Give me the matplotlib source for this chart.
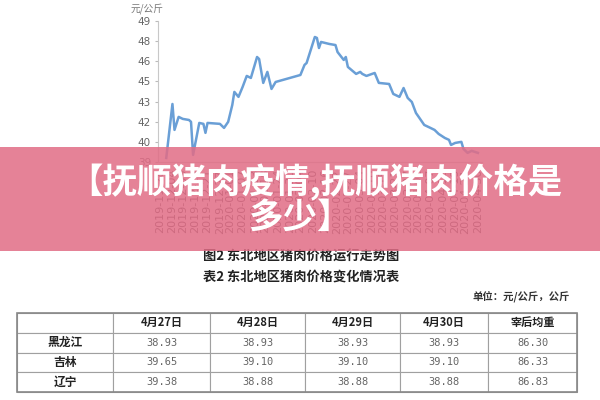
import pandas as pd
import matplotlib
matplotlib.use("Agg")
import matplotlib.pyplot as plt
from matplotlib.patches import Rectangle

plt.rcParams['font.family'] = ['Noto Sans CJK SC', 'DejaVu Sans']

# pork price, Northeast China (yuan/kg)
dates = ['2019-12-01', '2019-12-04', '2019-12-05', '2019-12-07', '2019-12-09', '2019-12-12',
         '2019-12-13', '2019-12-14', '2019-12-17', '2019-12-19', '2019-12-20', '2019-12-21',
         '2019-12-27', '2019-12-29', '2019-12-31',
         '2020-01-02', '2020-01-03', '2020-01-05', '2020-01-07', '2020-01-09', '2020-01-11',
         '2020-01-14', '2020-01-15', '2020-01-17', '2020-01-19', '2020-01-21', '2020-01-23',
         '2020-02-04', '2020-02-06', '2020-02-07', '2020-02-11', '2020-02-12', '2020-02-13',
         '2020-02-14', '2020-02-18', '2020-02-21', '2020-02-22', '2020-02-25', '2020-02-26',
         '2020-02-27',
         '2020-03-02', '2020-03-04', '2020-03-05', '2020-03-07', '2020-03-11', '2020-03-13',
         '2020-03-18', '2020-03-20', '2020-03-23', '2020-03-25', '2020-03-27', '2020-03-29',
         '2020-03-31',
         '2020-04-01', '2020-04-04', '2020-04-07', '2020-04-09', '2020-04-11', '2020-04-14',
         '2020-04-16', '2020-04-17', '2020-04-19', '2020-04-22', '2020-04-23', '2020-04-25',
         '2020-04-27', '2020-04-30']
prices = [38.80, 42.82, 40.89, 41.86, 41.71, 41.63, 41.49, 39.03, 41.41, 41.34, 40.67, 41.41,
          41.34, 41.04, 41.49,
          42.75, 43.72, 43.35, 44.09, 44.91, 44.76, 46.32, 46.17, 44.39, 45.21, 43.94, 44.46,
          44.98, 45.73, 45.87, 47.81, 47.74, 46.99, 47.44, 47.29, 47.21, 46.69, 46.10, 46.32,
          45.58,
          45.06, 45.21, 45.06, 44.91, 45.13, 44.39, 44.31, 43.57, 43.35, 44.01, 43.27, 42.97,
          42.15,
          41.93, 41.26, 41.04, 40.89, 40.59, 40.29, 40.15, 39.77, 39.92, 40.00, 39.48, 39.18,
          39.33, 39.18]

xtick_dates = ['2019-11-28', '2019-12-04', '2019-12-09', '2019-12-15', '2019-12-21', '2019-12-27',
               '2020-01-01', '2020-01-07', '2020-01-13', '2020-01-18', '2020-01-24', '2020-01-30',
               '2020-02-04', '2020-02-10', '2020-02-16', '2020-02-22', '2020-02-27', '2020-03-04',
               '2020-03-10', '2020-03-15', '2020-03-21', '2020-03-27', '2020-04-01', '2020-04-07',
               '2020-04-13', '2020-04-19', '2020-04-24', '2020-04-30']
ytick_vals = [38.5, 40, 41.5, 43, 44.5, 46, 47.5, 49]
ytick_labels = ['39', '40', '42', '43', '45', '46', '48', '49']

# table 2
col_labels = ['', '4月27日', '4月28日', '4月29日', '4月30日', '宰后均重']
provinces = ['黑龙江', '吉林', '辽宁']
table_vals = [['38.93', '38.93', '38.93', '38.93', '86.30'],
              ['39.65', '39.10', '39.10', '39.10', '86.33'],
              ['39.38', '38.88', '38.88', '38.88', '86.83']]

W, H = 600, 400
fig = plt.figure(figsize=(6, 4), dpi=100)


def px(x, y):
    return x / W, 1 - y / H


# ---- line chart ----
ax = fig.add_axes([158 / W, 1 - 162 / H, 324 / W, 141 / H])
x = pd.to_datetime(dates)
ax.plot(x, prices, color='#6A9FD6', linewidth=1.8, clip_on=False)
ax.set_xlim(pd.Timestamp('2019-11-27'), pd.Timestamp('2020-05-02'))
ax.set_ylim(38.5, 49)
ax.set_yticks(ytick_vals)
ax.set_yticklabels(ytick_labels, fontsize=7.5, color='#666666', family='DejaVu Sans')
ax.set_xticks(pd.to_datetime(xtick_dates))
ax.set_xticklabels(xtick_dates, rotation=90, fontsize=8, color='#555555', family='DejaVu Sans')
ax.tick_params(axis='y', length=2, color='#BBBBBB', pad=3)
ax.tick_params(axis='x', length=0, pad=5)
for s in ['top', 'right']:
    ax.spines[s].set_visible(False)
ax.spines['left'].set_color('#C8C8C8')
ax.spines['bottom'].set_color('#C8C8C8')
ax.patch.set_alpha(0)
fig.text(*px(131, 9), '元/公斤', fontsize=7, color='#777777', va='center', ha='left')

# ---- pink banner with title ----
fig.patches.append(Rectangle(px(0, 251), 1, 104 / H, transform=fig.transFigure,
                             facecolor='#E16D86', alpha=0.86, edgecolor='none', zorder=5))
fig.text(*px(315, 182), '【抚顺猪肉疫情,抚顺猪肉价格是', fontsize=24.8, fontweight='bold',
         color='white', ha='center', va='center', zorder=6)
fig.text(*px(300, 217), '多少】', fontsize=24.8, fontweight='bold',
         color='white', ha='center', va='center', zorder=6)

# ---- captions ----
fig.text(*px(203, 257), '图2 东北地区猪肉价格运行走势图', fontsize=9.5, fontweight='bold',
         color='#222222', ha='left', va='center')
fig.text(*px(203, 277), '表2 东北地区猪肉价格变化情况表', fontsize=9.5, fontweight='bold',
         color='#222222', ha='left', va='center')
fig.text(*px(570, 297), '单位：元/公斤，公斤', fontsize=7.5, fontweight='bold',
         color='#333333', ha='right', va='center')

# ---- table ----
tax = fig.add_axes([17 / W, 1 - 392 / H, 560 / W, 79 / H])
tax.axis('off')
cells = [col_labels] + [[p] + row for p, row in zip(provinces, table_vals)]
widths = [96, 97, 95, 95, 88, 89]
tbl = tax.table(cellText=cells, colWidths=[w / sum(widths) for w in widths],
                bbox=[0, 0, 1, 1], cellLoc='center')
tbl.auto_set_font_size(False)
for (r, c), cell in tbl.get_celld().items():
    cell.set_edgecolor('#A0A0A0')
    cell.set_linewidth(0.8)
    t = cell.get_text()
    if r == 0 or c == 0:
        t.set_fontsize(8.5 if c == 0 else 8)
        t.set_fontweight('bold')
        t.set_color('#222222')
    else:
        t.set_fontsize(7.5)
        t.set_family('DejaVu Sans Mono')
        t.set_color('#666666')
tax.add_patch(Rectangle((0, 0), 1, 1, transform=tax.transAxes, fill=False,
                        edgecolor='#888888', linewidth=1.2, clip_on=False))

fig.savefig('out.png', dpi=100)
